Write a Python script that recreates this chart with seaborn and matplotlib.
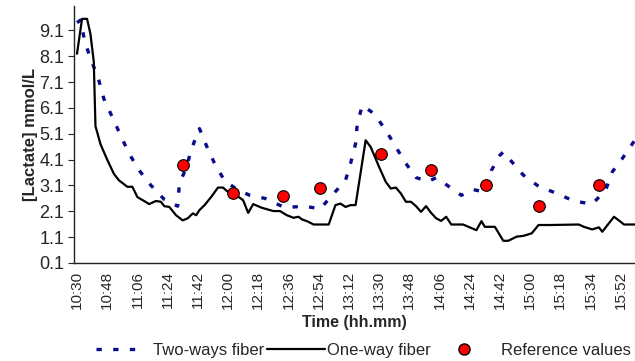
import numpy as np
import pandas as pd
import matplotlib
matplotlib.use("Agg")
import matplotlib.pyplot as plt
from matplotlib.lines import Line2D
import seaborn as sns

### Data (minutes after 10:30, lactate in mmol/L)
one_way_min = [0, 3, 6, 8, 10, 11, 14, 18, 22, 25, 28, 30, 33, 36, 40, 43, 47, 50, 52, 55,
               59, 63, 66, 69, 71, 73, 76, 80, 84, 87, 90, 95, 99, 102, 105, 110, 117, 121,
               125, 129, 132, 134, 137, 141, 150, 154, 157, 160, 163, 166, 172, 175, 180,
               184, 187, 190, 193, 196, 199, 202, 205, 208, 211, 214, 217, 220, 223, 230,
               238, 241, 243, 249, 254, 257, 262, 266, 271, 275, 282, 299, 302, 307, 311,
               313, 320, 326, 333]
one_way_val = [8.2, 9.55, 9.55, 8.97, 7.9, 5.4, 4.7, 4.1, 3.55, 3.3, 3.15, 3.05, 3.05, 2.65,
               2.5, 2.38, 2.5, 2.47, 2.3, 2.27, 1.95, 1.75, 1.83, 2.02, 1.95, 2.15, 2.34,
               2.66, 3.02, 3.02, 2.85, 2.72, 2.53, 2.04, 2.38, 2.24, 2.11, 2.11, 1.95, 1.85,
               1.89, 1.79, 1.72, 1.59, 1.59, 2.34, 2.4, 2.27, 2.34, 2.34, 4.85, 4.59, 3.82,
               3.24, 2.98, 3.02, 2.79, 2.47, 2.47, 2.3, 2.08, 2.3, 2.04, 1.83, 1.73, 1.89,
               1.59, 1.59, 1.37, 1.72, 1.5, 1.5, 0.96, 0.96, 1.12, 1.15, 1.25, 1.57, 1.57,
               1.59, 1.5, 1.4, 1.48, 1.31, 1.89, 1.59, 1.59]

two_way_min = [0, 2, 5, 9, 13, 16, 21, 26, 31, 37, 44, 52, 60, 61, 65, 68, 72, 73, 77, 82,
               88, 96, 103, 112, 124, 135, 145, 152, 160, 163, 166, 167, 170, 177, 184, 190,
               196, 202, 209, 214, 219, 229, 236, 243, 247, 252, 254, 258, 266, 275, 286,
               296, 307, 315, 319, 325, 331, 334]
two_way_val = [9.4, 9.5, 8.58, 7.87, 7.17, 6.46, 5.75, 5.04, 4.34, 3.69, 3.11, 2.56, 2.3,
               3.18, 3.76, 4.46, 5.17, 5.3, 4.66, 3.95, 3.28, 2.92, 2.72, 2.6, 2.24, 2.3,
               2.2, 2.72, 3.3, 3.95, 4.72, 5.49, 6.2, 5.88, 5.24, 4.59, 3.95, 3.41, 3.25,
               3.4, 3.18, 2.72, 2.94, 2.85, 3.69, 4.27, 4.4, 4.1, 3.5, 3.07, 2.79, 2.5, 2.38,
               2.92, 3.63, 4.15, 4.72, 5.0]

ref_min = [63, 93, 123, 145, 181, 211, 244, 275, 311]
ref_val = [3.9, 2.8, 2.7, 3.0, 4.3, 3.7, 3.1, 2.3, 3.1]

tick_labels = ["10:30", "10:48", "11:06", "11:24", "11:42", "12:00", "12:18", "12:36",
               "12:54", "13:12", "13:30", "13:48", "14:06", "14:24", "14:42", "15:00",
               "15:18", "15:34", "15:52"]
y_ticks = [0.1, 1.1, 2.1, 3.1, 4.1, 5.1, 6.1, 7.1, 8.1, 9.1]

one_df = pd.DataFrame({"t": one_way_min, "lac": one_way_val})
two_df = pd.DataFrame({"t": two_way_min, "lac": two_way_val})
ref_df = pd.DataFrame({"t": ref_min, "lac": ref_val})

sns.set_style("white")
plt.rcParams["font.family"] = ["Liberation Sans", "DejaVu Sans"]

navy = "#0A0A8C"
dash_style = (0, (1.6, 3.4))

fig = plt.figure(figsize=(6.35, 3.61), dpi=100)
ax = fig.add_axes([0.1165, 0.2715, 0.8835, 0.712])

sns.lineplot(data=two_df, x="t", y="lac", color=navy, linewidth=2.4,
             linestyle=dash_style, ax=ax, zorder=2)
sns.lineplot(data=one_df, x="t", y="lac", color="black", linewidth=1.6, ax=ax, zorder=3)
sns.scatterplot(data=ref_df, x="t", y="lac", color="#FF0000", edgecolor="black",
                linewidth=0.8, s=70, ax=ax, zorder=4)

ax.set_xlim(-1.8, 332.5)
ax.set_ylim(0.1, 10.05)
ax.set_xticks(np.arange(len(tick_labels)) * 18)
ax.set_xticklabels(tick_labels, rotation=90, fontsize=11)
ax.set_yticks(y_ticks)
ax.set_yticklabels([f"{v:.1f}" for v in y_ticks], fontsize=13)
ax.tick_params(axis="y", length=4, width=0.8, direction="out", pad=3, left=True)
ax.tick_params(axis="x", length=0, pad=6)

sns.despine(ax=ax, top=True, right=True)
for sp in ["left", "bottom"]:
    ax.spines[sp].set_color("#222222")
    ax.spines[sp].set_linewidth(1.0)

ax.set_xlabel("Time (hh.mm)", fontsize=11.5, fontweight="bold", labelpad=4)
ax.set_ylabel("[Lactate] mmol/L", fontsize=12, fontweight="bold", labelpad=1)
ax.grid(False)

# legend entries placed one by one, like the spreadsheet legend
entries = [
    (Line2D([0], [0], color=navy, linewidth=2.4, linestyle=dash_style),
     "Two-ways fiber", 0.151, 2.9, 0.55),
    (Line2D([0], [0], color="black", linewidth=1.6),
     "One-way fiber", 0.420, 3.5, 0.1),
    (Line2D([0], [0], marker="o", color="none", markerfacecolor="#FF0000",
            markeredgecolor="black", markersize=8),
     "Reference values", 0.705, 2.0, 1.2),
]
for handle, label, x0, hlen, hpad in entries:
    fig.legend([handle], [label], loc="center left", bbox_to_anchor=(x0, 0.03),
               frameon=False, fontsize=12, handlelength=hlen, handletextpad=hpad,
               borderpad=0, borderaxespad=0)

plt.savefig("out.png", dpi=100)
